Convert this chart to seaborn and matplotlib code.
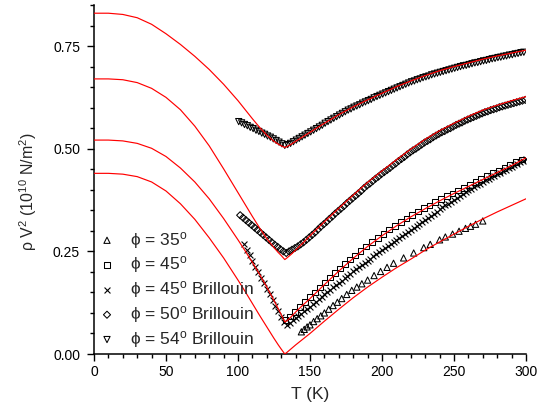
import numpy as np
import pandas as pd
import matplotlib
matplotlib.use("Agg")
import matplotlib.pyplot as plt
import seaborn as sns
from matplotlib.ticker import MultipleLocator

# ---------------- theory curves (red) ----------------
T_fit = [0, 10, 20, 30, 40, 50, 60, 70, 80, 90,
         100, 105, 110, 115, 120, 125, 128, 130, 132.5,
         134, 137, 140, 145, 150,
         160, 170, 180, 190, 200, 210, 220, 230, 240, 250, 260, 270, 280, 290, 300]
fit_54 = [0.830, 0.830, 0.827, 0.819, 0.803, 0.780, 0.754, 0.725, 0.693, 0.657,
          0.617, 0.595, 0.573, 0.552, 0.533, 0.518, 0.511, 0.507, 0.503,
          0.505, 0.511, 0.518, 0.529, 0.540,
          0.562, 0.583, 0.602, 0.619, 0.635, 0.651, 0.665, 0.678, 0.690, 0.700, 0.709, 0.718, 0.726, 0.733, 0.740]
fit_50 = [0.670, 0.670, 0.668, 0.661, 0.647, 0.625, 0.595, 0.555, 0.507, 0.451,
          0.393, 0.364, 0.335, 0.307, 0.281, 0.259, 0.247, 0.240, 0.230,
          0.234, 0.243, 0.253, 0.270, 0.288,
          0.322, 0.355, 0.387, 0.418, 0.446, 0.473, 0.499, 0.523, 0.544, 0.562, 0.579, 0.594, 0.606, 0.617, 0.627]
fit_45 = [0.521, 0.521, 0.519, 0.513, 0.501, 0.481, 0.453, 0.419, 0.378, 0.330,
          0.278, 0.251, 0.223, 0.194, 0.163, 0.130, 0.110, 0.096, 0.078,
          0.081, 0.091, 0.102, 0.119, 0.135,
          0.169, 0.202, 0.233, 0.262, 0.288, 0.312, 0.334, 0.354, 0.373, 0.391, 0.408, 0.425, 0.442, 0.459, 0.478]
fit_35 = [0.440, 0.440, 0.438, 0.432, 0.419, 0.397, 0.366, 0.328, 0.283, 0.234,
          0.180, 0.152, 0.123, 0.094, 0.066, 0.038, 0.022, 0.012, 0.000,
          0.004, 0.013, 0.022, 0.036, 0.050,
          0.080, 0.109, 0.137, 0.163, 0.187, 0.210, 0.231, 0.253, 0.273, 0.292, 0.311, 0.329, 0.346, 0.362, 0.378]

# ---------------- phi = 35 deg (triangles up) ----------------
T_35 = [144, 146, 148, 150, 152.5, 155, 157.5, 160, 163, 166,
        169, 172, 175.5, 179, 182.5, 186, 190, 194.5, 199, 203.5,
        208, 215, 222, 229, 233.5, 240, 244, 249, 253.5, 258,
        261.5, 265, 270]
V_35 = [0.054, 0.060, 0.066, 0.071, 0.079, 0.086, 0.093, 0.100, 0.109, 0.118,
        0.126, 0.135, 0.145, 0.155, 0.163, 0.171, 0.180, 0.191, 0.201, 0.211,
        0.221, 0.234, 0.246, 0.259, 0.267, 0.278, 0.285, 0.292, 0.299, 0.306,
        0.311, 0.316, 0.324]

# ---------------- phi = 45 deg (squares) ----------------
T_45 = [133, 136, 139.5, 143, 146.5, 150, 153.5, 157, 160.5, 164,
        167.5, 171, 174.5, 178, 181.5, 185, 189, 193, 197, 201,
        205, 209, 213, 217, 221, 225, 229, 233, 237, 241,
        245, 249, 253, 257, 261, 265, 269, 273, 277, 281,
        285, 289, 293, 297]
V_45 = [0.082, 0.091, 0.103, 0.115, 0.127, 0.138, 0.150, 0.162, 0.174, 0.186,
        0.197, 0.208, 0.219, 0.230, 0.240, 0.250, 0.262, 0.273, 0.283, 0.293,
        0.303, 0.312, 0.321, 0.330, 0.339, 0.347, 0.355, 0.362, 0.370, 0.377,
        0.384, 0.391, 0.398, 0.405, 0.412, 0.419, 0.426, 0.433, 0.440, 0.446,
        0.453, 0.460, 0.467, 0.474]

# ---------------- phi = 45 deg Brillouin (crosses), T = 104 ... 300 K ----------------
T_45B = list(range(104, 301, 2))
V_45B = [0.268, 0.254, 0.240, 0.226, 0.213, 0.199, 0.186, 0.172, 0.158, 0.145,
         0.131, 0.117, 0.104, 0.091, 0.078,
         0.071, 0.076, 0.082, 0.087, 0.093, 0.098, 0.104, 0.109, 0.115, 0.121,
         0.127, 0.133, 0.139, 0.145, 0.151, 0.157, 0.162, 0.168, 0.174, 0.179,
         0.185, 0.190, 0.196, 0.201, 0.206, 0.212, 0.217, 0.222, 0.227, 0.232,
         0.238, 0.243, 0.248, 0.253, 0.258, 0.263, 0.268, 0.272, 0.277, 0.282,
         0.287, 0.292, 0.296, 0.301, 0.306, 0.311, 0.316, 0.321, 0.326, 0.331,
         0.336, 0.342, 0.347, 0.352, 0.357, 0.362, 0.366, 0.371, 0.376, 0.381,
         0.385, 0.390, 0.394, 0.399, 0.403, 0.407, 0.411, 0.415, 0.419, 0.423,
         0.427, 0.430, 0.434, 0.438, 0.442, 0.445, 0.449, 0.452, 0.456, 0.460,
         0.463, 0.467, 0.470, 0.474]

# ---------------- phi = 50 deg Brillouin (diamonds), T = 101.5 ... 299.5 K ----------------
T_50B = [101.5 + 2 * k for k in range(100)]
V_50B = [0.338, 0.332, 0.326, 0.320, 0.314, 0.308, 0.302, 0.296, 0.290, 0.284,
         0.278, 0.272, 0.266, 0.261, 0.255, 0.250, 0.246,
         0.250, 0.254, 0.258, 0.262, 0.267, 0.272, 0.278, 0.284, 0.290, 0.296,
         0.303, 0.310, 0.316, 0.322, 0.329, 0.335, 0.342, 0.348, 0.354, 0.360,
         0.367, 0.373, 0.379, 0.385, 0.391, 0.397, 0.404, 0.410, 0.415, 0.421,
         0.427, 0.432, 0.438, 0.443, 0.448, 0.453, 0.459, 0.464, 0.470, 0.475,
         0.480, 0.486, 0.491, 0.496, 0.500, 0.505, 0.510, 0.515, 0.519, 0.523,
         0.528, 0.532, 0.536, 0.540, 0.543, 0.547, 0.550, 0.554, 0.558, 0.561,
         0.564, 0.568, 0.571, 0.574, 0.577, 0.580, 0.583, 0.586, 0.589, 0.591,
         0.594, 0.596, 0.598, 0.601, 0.603, 0.605, 0.607, 0.609, 0.611, 0.613,
         0.615, 0.617, 0.619]

# ---------------- phi = 54 deg Brillouin (triangles down), T = 100.5 ... 298.5 K ----------------
T_54B = [100.5 + 2 * k for k in range(100)]
V_54B = [0.566, 0.563, 0.559, 0.556, 0.552, 0.549, 0.545, 0.542, 0.538, 0.535,
         0.531, 0.528, 0.524, 0.520, 0.516, 0.512, 0.508,
         0.510, 0.513, 0.517, 0.521, 0.525, 0.529, 0.533, 0.537, 0.541, 0.545,
         0.549, 0.553, 0.557, 0.562, 0.566, 0.570, 0.574, 0.578, 0.582, 0.586,
         0.590, 0.594, 0.597, 0.601, 0.604, 0.607, 0.611, 0.614, 0.617, 0.620,
         0.624, 0.627, 0.630, 0.633, 0.636, 0.639, 0.642, 0.645, 0.648, 0.651,
         0.654, 0.657, 0.660, 0.663, 0.665, 0.668, 0.670, 0.673, 0.675, 0.677,
         0.680, 0.682, 0.684, 0.686, 0.688, 0.690, 0.692, 0.694, 0.696, 0.698,
         0.700, 0.702, 0.703, 0.705, 0.707, 0.709, 0.710, 0.712, 0.714, 0.715,
         0.717, 0.719, 0.720, 0.722, 0.723, 0.725, 0.726, 0.728, 0.729, 0.731,
         0.732, 0.734, 0.735]

labels = ["\u03d5 = 35$^{\\mathrm{o}}$",
          "\u03d5 = 45$^{\\mathrm{o}}$",
          "\u03d5 = 45$^{\\mathrm{o}}$ Brillouin",
          "\u03d5 = 50$^{\\mathrm{o}}$ Brillouin",
          "\u03d5 = 54$^{\\mathrm{o}}$ Brillouin"]

sns.set_style("ticks")
plt.rcParams['font.family'] = ['Liberation Sans', 'DejaVu Sans']
plt.rcParams['mathtext.fontset'] = 'custom'
plt.rcParams['mathtext.rm'] = 'Liberation Sans'
plt.rcParams['mathtext.it'] = 'Liberation Sans:italic'
plt.rcParams['mathtext.bf'] = 'Liberation Sans:bold'

fig = plt.figure(figsize=(5.48, 4.15), dpi=100)
ax = fig.add_axes([94 / 548, 61 / 415, 432 / 548, 349 / 415])

hollow = dict(color='none', edgecolor='black', linewidth=0.75, s=20, zorder=3)
sns.scatterplot(x=T_35, y=V_35, marker='^', label=labels[0], ax=ax, **hollow)
sns.scatterplot(x=T_45, y=V_45, marker='s', label=labels[1], ax=ax, **{**hollow, 's': 17})
sns.scatterplot(x=T_45B, y=V_45B, marker='x', color='black', linewidth=0.8, s=18,
                label=labels[2], ax=ax, zorder=3)
sns.scatterplot(x=T_50B, y=V_50B, marker='D', label=labels[3], ax=ax,
                **{**hollow, 's': 13})
sns.scatterplot(x=T_54B, y=V_54B, marker='v', label=labels[4], ax=ax, **hollow)

for fit in (fit_54, fit_50, fit_45, fit_35):
    sns.lineplot(x=T_fit, y=fit, color='#ff0000', linewidth=0.85, ax=ax,
                 sort=False, estimator=None, legend=False, zorder=5)

ax.set_xlim(0, 300)
ax.set_ylim(0, 0.85)
ax.xaxis.set_major_locator(MultipleLocator(50))
ax.xaxis.set_minor_locator(MultipleLocator(10))
ax.yaxis.set_major_locator(MultipleLocator(0.25))
ax.yaxis.set_minor_locator(MultipleLocator(0.05))
ax.yaxis.set_major_formatter(matplotlib.ticker.FormatStrFormatter('%.2f'))

sns.despine(ax=ax)
for sp in ('left', 'bottom'):
    ax.spines[sp].set_linewidth(1.1)
    ax.spines[sp].set_color('black')
ax.tick_params(which='major', direction='out', length=5, width=1.0, labelsize=10,
               colors='black', pad=3)
ax.tick_params(which='minor', direction='out', length=3, width=1.0, colors='black')
ax.tick_params(axis='y', which='major', pad=5)

ax.set_xlabel("T (K)", fontsize=12.5)
ax.set_ylabel("\u03c1 V$^{2}$ (10$^{10}$ N/m$^{2}$)", fontsize=11.5)
ax.xaxis.set_label_coords(0.5, -0.095)
ax.yaxis.set_label_coords(-0.128, 0.464)

handles, labs = ax.get_legend_handles_labels()
leg = ax.legend(handles, labs, loc='lower left', bbox_to_anchor=(0.010, 0.012),
                frameon=False, fontsize=12.5, handlelength=1.0, handletextpad=0.85,
                labelspacing=0.22, borderpad=0, borderaxespad=0, scatterpoints=1)

fig.savefig("out.png", dpi=100)
